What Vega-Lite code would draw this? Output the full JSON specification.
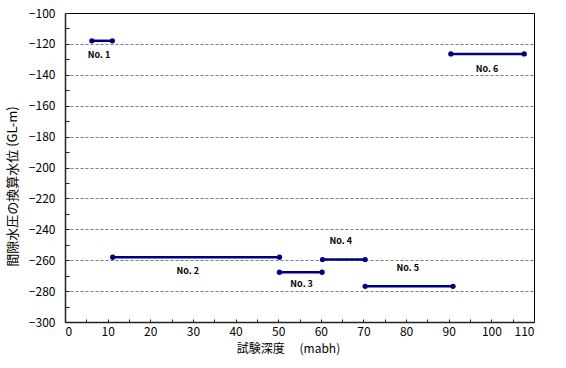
{
  "$schema": "https://vega.github.io/schema/vega-lite/v6.json",
  "width": 469,
  "height": 309,
  "autosize": {"type": "none"},
  "padding": {"left": 65, "top": 13, "right": 32, "bottom": 46},
  "background": "white",
  "config": {
    "view": {"stroke": "black", "strokeWidth": 1},
    "font": "Noto Sans CJK JP"
  },
  "data": {
    "values": [
      {"name": "No. 1", "x1": 6.3, "x2": 11.1, "y": -118, "lx": 8.0, "ly": -127.2},
      {"name": "No. 2", "x1": 11.2, "x2": 50.3, "y": -258.1, "lx": 28.8, "ly": -267.0},
      {"name": "No. 3", "x1": 50.3, "x2": 60.3, "y": -267.8, "lx": 55.5, "ly": -275.4},
      {"name": "No. 4", "x1": 60.4, "x2": 70.4, "y": -259.6, "lx": 64.7, "ly": -247.6},
      {"name": "No. 5", "x1": 70.4, "x2": 91.0, "y": -276.9, "lx": 80.4, "ly": -265.0},
      {"name": "No. 6", "x1": 90.5, "x2": 107.7, "y": -126.5, "lx": 99.0, "ly": -136.2}
    ]
  },
  "resolve": {"axis": {"y": "independent", "x": "independent"}},
  "layer": [
    {
      "mark": {"type": "rule", "color": "#000080", "strokeWidth": 2.5},
      "encoding": {
        "x": {
          "field": "x1", "type": "quantitative", "title": "試験深度　 (mabh)",
          "scale": {"domain": [0, 110], "nice": false, "zero": false},
          "axis": {
            "values": [0,10,20,30,40,50,60,70,80,90,100,110],
            "labelOverlap": false,
            "grid": false,
            "domainColor": "#222",
            "domainWidth": 1.5,
            "tickColor": "#222",
            "tickSize": -3,
            "labelPadding": 7,
            "labelFontSize": 12,
            "labelColor": "black",
            "labelFont": "Noto Sans CJK JP",
            "titleFontSize": 12,
            "titleFontWeight": "normal",
            "titleColor": "black",
            "titleX": 223,
            "titleY": 26,
            "titleBaseline": "middle"
          }
        },
        "x2": {"field": "x2"},
        "y": {
          "field": "y", "type": "quantitative", "title": "間隙水圧の換算水位 (GL-m)",
          "scale": {"domain": [-300, -100], "nice": false, "zero": false},
          "axis": {
            "values": [-300,-280,-260,-240,-220,-200,-180,-160,-140,-120,-100],
            "labelOverlap": false,
            "grid": true,
            "gridColor": "#7a7a7a",
            "gridOpacity": {"condition": {"test": "datum.value > -299 && datum.value < -101", "value": 1}, "value": 0},
            "gridDash": [3, 2],
            "gridWidth": 1,
            "domainColor": "#222",
            "domainWidth": 1.5,
            "tickColor": "#222",
            "tickSize": -4,
            "labelPadding": 14,
            "labelFontSize": 12,
            "labelColor": "black",
            "labelFont": "Noto Sans CJK JP",
            "titleFontSize": 13,
            "titleFontWeight": "normal",
            "titleColor": "black",
            "titleX": -53,
            "titleY": 173,
            "titleAngle": -90,
            "titleBaseline": "middle",
            "titleAlign": "center"
          }
        }
      }
    },
    {
      "mark": {"type": "point", "filled": true, "color": "#000080", "size": 28, "opacity": 1},
      "encoding": {
        "x": {"field": "x1", "type": "quantitative", "scale": {"domain": [0, 110], "nice": false, "zero": false},
          "axis": {"orient": "bottom", "values": [5,15,25,35,45,55,65,75,85,95,105], "labels": false, "title": null, "grid": false, "domain": false, "tickColor": "#222", "tickSize": -3}},
        "y": {"field": "y", "type": "quantitative", "scale": {"domain": [-300, -100], "nice": false, "zero": false},
          "axis": {"orient": "left", "values": [-290,-270,-250,-230,-210,-190,-170,-150,-130,-110], "labels": false, "title": null, "grid": false, "domain": false, "tickColor": "#222", "tickSize": -4}}
      }
    },
    {
      "mark": {"type": "point", "filled": true, "color": "#000080", "size": 28, "opacity": 1},
      "encoding": {
        "x": {"field": "x2", "type": "quantitative", "scale": {"domain": [0, 110], "nice": false, "zero": false}, "axis": null},
        "y": {"field": "y", "type": "quantitative", "scale": {"domain": [-300, -100], "nice": false, "zero": false}, "axis": null}
      }
    },
    {
      "mark": {"type": "text", "fontSize": 9, "fontWeight": "bold", "font": "Noto Sans CJK JP", "stroke": "white", "strokeWidth": 4, "color": "white"},
      "encoding": {
        "x": {"field": "lx", "type": "quantitative", "scale": {"domain": [0, 110], "nice": false, "zero": false}, "axis": null},
        "y": {"field": "ly", "type": "quantitative", "scale": {"domain": [-300, -100], "nice": false, "zero": false}, "axis": null},
        "text": {"field": "name"}
      }
    },
    {
      "mark": {"type": "text", "fontSize": 9, "fontWeight": "bold", "font": "Noto Sans CJK JP", "color": "black"},
      "encoding": {
        "x": {"field": "lx", "type": "quantitative", "scale": {"domain": [0, 110], "nice": false, "zero": false}, "axis": null},
        "y": {"field": "ly", "type": "quantitative", "scale": {"domain": [-300, -100], "nice": false, "zero": false}, "axis": null},
        "text": {"field": "name"}
      }
    }
  ]
}
